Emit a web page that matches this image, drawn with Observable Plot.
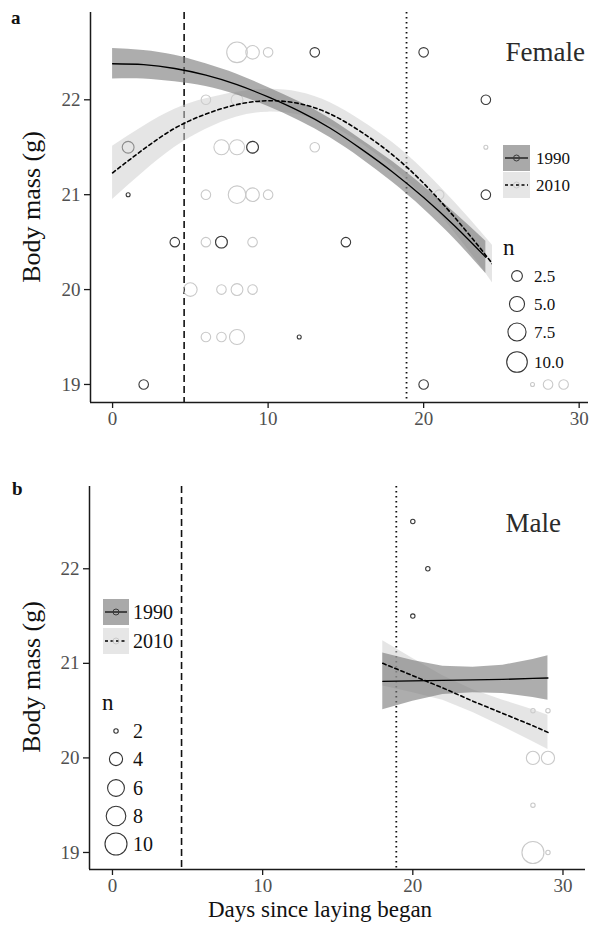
<!DOCTYPE html>
<html><head><meta charset="utf-8">
<script src="https://cdn.jsdelivr.net/npm/d3@7"></script>
<script src="https://cdn.jsdelivr.net/npm/@observablehq/plot@0.6"></script>
<style>
html,body{margin:0;padding:0;background:#fff;}
#wrap{position:relative;width:590px;height:932px;overflow:hidden;background:#fff;}
#wrap svg{display:block;}
#pa{position:absolute;left:0;top:0;}
#pb{position:absolute;left:0;top:466px;}
#ov{position:absolute;left:0;top:0;pointer-events:none;}
</style></head>
<body><div id="wrap"><div id="pa"></div><div id="pb"></div></div>
<script>
const serif = "'Liberation Serif','Times New Roman',serif";

// ---- ticks / labels ----
const xTicks = [0, 10, 20, 30];
const yTicks = [19, 20, 21, 22];
const years = ["1990", "2010"];
const panelNames = ["Female", "Male"];
const refDays = [4.6, 18.9]; // dashed, dotted reference lines

// ---- Female observations ----
const fDay90  = [1, 1, 2, 4, 7, 9, 12, 13, 15, 20, 20, 24, 24];
const fMass90 = [21.5, 21, 19, 20.5, 20.5, 21.5, 19.5, 22.5, 20.5, 22.5, 19, 22, 21];
const fN90    = [3, 1, 2, 2, 3, 3, 1, 2, 2, 2, 2, 2, 2];

const fDay10  = [8, 9, 10, 6, 8, 7, 8, 9, 13, 24, 6, 8, 9, 10, 21, 6, 7, 9, 5, 7, 8, 9, 6, 7, 8, 27, 28, 29];
const fMass10 = [22.5, 22.5, 22.5, 22, 22, 21.5, 21.5, 21.5, 21.5, 21.5, 21, 21, 21, 21, 21, 20.5, 20.5, 20.5, 20, 20, 20, 20, 19.5, 19.5, 19.5, 19, 19, 19];
const fN10    = [10, 4, 2, 2, 3, 5, 5, 3, 2, 1, 2, 7, 4, 2, 2, 2, 3, 2, 4, 2, 3, 2, 2, 2, 5, 1, 2, 2];

// ---- Female fitted curves ----
const fFitDay90 = [0, 2, 4, 6, 8, 10, 12, 14, 16, 18, 20, 22, 24];
const fFit90 = [22.38, 22.37, 22.33, 22.26, 22.16, 22.03, 21.88, 21.70, 21.48, 21.24, 20.97, 20.67, 20.34];
const fLo90  = [22.22, 22.22, 22.19, 22.14, 22.05, 21.93, 21.78, 21.60, 21.38, 21.13, 20.85, 20.53, 20.17];
const fHi90  = [22.54, 22.52, 22.47, 22.38, 22.27, 22.13, 21.98, 21.80, 21.58, 21.35, 21.09, 20.81, 20.51];

const fFitDay10 = [0, 2, 4, 6, 8, 10, 12, 14, 16, 18, 20, 22, 24, 26, 28];
const fFit10 = [21.23, 21.48, 21.70, 21.85, 21.95, 21.99, 21.96, 21.85, 21.66, 21.42, 21.12, 20.76, 20.36, 19.92, 19.45];
const fLo10  = [20.95, 21.24, 21.50, 21.69, 21.82, 21.87, 21.84, 21.73, 21.54, 21.29, 20.98, 20.60, 20.17, 19.69, 19.18];
const fHi10  = [21.51, 21.72, 21.90, 22.01, 22.08, 22.11, 22.08, 21.97, 21.78, 21.55, 21.26, 20.92, 20.55, 20.15, 19.72];

// ---- Male observations ----
const mDay90  = [20, 21, 20];
const mMass90 = [22.5, 22, 21.5];
const mN90    = [2, 2, 2];

const mDay10  = [28, 29, 28, 29, 28, 28, 29];
const mMass10 = [20.5, 20.5, 20, 20, 19.5, 19, 19];
const mN10    = [2, 2, 4, 4, 2, 10, 2];

// ---- Male fitted lines ----
const mFitDay = [18, 20, 22, 24, 26, 28, 29];
const mFit90 = [20.81, 20.815, 20.82, 20.825, 20.83, 20.84, 20.845];
const mLo90  = [20.51, 20.60, 20.67, 20.69, 20.68, 20.64, 20.61];
const mHi90  = [21.11, 21.03, 20.97, 20.96, 20.98, 21.04, 21.08];
const mFit10 = [21.00, 20.87, 20.74, 20.60, 20.47, 20.34, 20.27];
const mLo10  = [20.76, 20.69, 20.61, 20.48, 20.33, 20.17, 20.09];
const mHi10  = [21.24, 21.05, 20.87, 20.72, 20.61, 20.51, 20.45];

// ---- size legend values ----
const fLegendN = [2.5, 5.0, 7.5, 10.0];
const mLegendN = [2, 4, 6, 8, 10];

// build tables
const pts = (d, m, n) => d.map((x, i) => ({day: x, mass: m[i], n: n[i]}));
const fit = (d, f, lo, hi) => d.map((x, i) => ({day: x, fit: f[i], lo: lo[i], hi: hi[i]}));

const col90 = "#3a3a3a", col10 = "#c9c9c9";
const band90 = "#7a7a7a", band10 = "#d0d0d0";

function panel({p90, p10, fit90, fit10, xDomain, yDomain, margins, rOpts, curve}) {
  return Plot.plot({
    width: 590, height: 466,
    ...margins,
    x: {domain: xDomain},
    y: {domain: yDomain},
    r: rOpts,
    style: {fontFamily: serif, fontSize: "19px", background: "transparent", overflow: "visible"},
    marks: [
      Plot.ruleX([refDays[0]], {stroke: "#111", strokeWidth: 1.6, strokeDasharray: "7,4"}),
      Plot.ruleX([refDays[1]], {stroke: "#111", strokeWidth: 1.8, strokeDasharray: "1.6,3.4"}),
      Plot.dot(p10, {x: "day", y: "mass", r: "n", stroke: col10, strokeWidth: 1.1}),
      Plot.dot(p90, {x: "day", y: "mass", r: "n", stroke: col90, strokeWidth: 1.1}),
      Plot.areaY(fit10, {x: "day", y1: "lo", y2: "hi", fill: band10, fillOpacity: 0.55, curve}),
      Plot.areaY(fit90, {x: "day", y1: "lo", y2: "hi", fill: band90, fillOpacity: 0.62, curve}),
      Plot.line(fit10, {x: "day", y: "fit", stroke: "#000", strokeWidth: 1.6, strokeDasharray: "3.5,3", curve}),
      Plot.line(fit90, {x: "day", y: "fit", stroke: "#000", strokeWidth: 1.3, curve}),
      Plot.ruleX([xDomain[0]], {stroke: "#1a1a1a", strokeWidth: 1.5}),
      Plot.ruleY([yDomain[0]], {stroke: "#1a1a1a", strokeWidth: 1.5}),
      Plot.axisX(xTicks, {anchor: "bottom", tickSize: 6, tickPadding: 3, label: null, tickFormat: d => String(d), fontSize: 19, fill: "#505050", stroke: "#1a1a1a", strokeWidth: 1.3}),
      Plot.axisY(yTicks, {anchor: "left", tickSize: 6, tickPadding: 4, label: null, tickFormat: d => String(d), fontSize: 19, fill: "#505050", stroke: "#1a1a1a", strokeWidth: 1.3})
    ]
  });
}

const rA = {type: "linear", transform: n => 1 + 5 * Math.sqrt((n - 1) / 9), domain: [1, 6], range: [2, 10.3]};
const rB = {type: "linear", transform: n => 1 + 5 * Math.sqrt((n - 2) / 8), domain: [1, 6], range: [2.2, 11]};

const chartA = panel({
  p90: pts(fDay90, fMass90, fN90), p10: pts(fDay10, fMass10, fN10),
  fit90: fit(fFitDay90, fFit90, fLo90, fHi90), fit10: fit(fFitDay10, fFit10, fLo10, fHi10),
  xDomain: [-1.42, 30.6], yDomain: [18.81, 22.92],
  margins: {marginLeft: 90, marginRight: 2, marginTop: 12, marginBottom: 64},
  rOpts: rA, curve: "natural"
});
const chartB = panel({
  p90: pts(mDay90, mMass90, mN90), p10: pts(mDay10, mMass10, mN10),
  fit90: fit(mFitDay, mFit90, mLo90, mHi90), fit10: fit(mFitDay, mFit10, mLo10, mHi10),
  xDomain: [-1.53, 31.5], yDomain: [18.82, 22.87],
  margins: {marginLeft: 89, marginRight: 5, marginTop: 20, marginBottom: 63},
  rOpts: rB, curve: "linear"
});
document.getElementById("pa").appendChild(chartA);
document.getElementById("pb").appendChild(chartB);

// radius via the charts' own r scales
function radiusFn(chart, opts) {
  const s = chart.scale("r");
  const test = s.apply(10);
  const applied = Math.abs(test - opts.range[1]) < 0.05 && opts.transform(10) !== 10;
  return v => applied ? s.apply(v) : s.apply(opts.transform(v));
}
const rFnA = radiusFn(chartA, rA);
const rFnB = radiusFn(chartB, rB);

// ---- overlay: titles and legends ----
const ov = d3.select("#wrap").append("svg").attr("id", "ov")
  .attr("width", 590).attr("height", 932)
  .style("font-family", serif);

ov.append("text").attr("x", 11).attr("y", 24).attr("font-size", 19).attr("font-weight", "bold").attr("fill", "#111").text("a");
ov.append("text").attr("x", 12).attr("y", 495).attr("font-size", 19).attr("font-weight", "bold").attr("fill", "#111").text("b");

ov.append("text").attr("x", 585).attr("y", 61).attr("text-anchor", "end").attr("font-size", 27).attr("fill", "#2b2b2b").text(panelNames[0]);
ov.append("text").attr("x", 561).attr("y", 532).attr("text-anchor", "end").attr("font-size", 27).attr("fill", "#2b2b2b").text(panelNames[1]);

[207, 677].forEach(cy => {
  ov.append("text").attr("transform", `translate(40,${cy}) rotate(-90)`).attr("text-anchor", "middle")
    .attr("font-size", 26).attr("fill", "#111").text("Body mass (g)");
});
ov.append("text").attr("x", 320).attr("y", 917).attr("text-anchor", "middle").attr("font-size", 23).attr("fill", "#111")
  .text("Days since laying began");

function yearLegend(x, ys, w, h, fs, tx) {
  const fills = ["#a9a9a9", "#e6e6e6"];
  ys.forEach((y, i) => {
    ov.append("rect").attr("x", x).attr("y", y).attr("width", w).attr("height", h).attr("fill", fills[i]);
    ov.append("line").attr("x1", x + 2).attr("x2", x + w - 2).attr("y1", y + h / 2).attr("y2", y + h / 2)
      .attr("stroke", "#000").attr("stroke-width", i ? 1.4 : 1.2).attr("stroke-dasharray", i ? "3,2.5" : null);
    ov.append("circle").attr("cx", x + w / 2).attr("cy", y + h / 2).attr("r", 3).attr("fill", "none")
      .attr("stroke", i ? col10 : col90).attr("stroke-width", 1);
    ov.append("text").attr("x", tx).attr("y", y + h / 2).attr("dy", "0.35em").attr("font-size", fs).attr("fill", "#111").text(years[i]);
  });
}
function sizeLegend(vals, rfn, cx, cys, tx, fs, titleX, titleY, fmt) {
  ov.append("text").attr("x", titleX).attr("y", titleY).attr("font-size", 23).attr("fill", "#111").text("n");
  vals.forEach((v, i) => {
    ov.append("circle").attr("cx", cx).attr("cy", cys[i]).attr("r", rfn(v)).attr("fill", "none").attr("stroke", "#333").attr("stroke-width", 1.1);
    ov.append("text").attr("x", tx).attr("y", cys[i]).attr("dy", "0.35em").attr("font-size", fs).attr("fill", "#111").text(fmt(v));
  });
}

// panel a legends (white legend background hides curve tails)
ov.append("rect").attr("x", 492).attr("y", 210).attr("width", 98).attr("height", 166).attr("fill", "#fff");
yearLegend(503, [145, 172], 27, 26, 17, 536);
sizeLegend(fLegendN, rFnA, 517, [276, 304, 332, 362], 534, 17, 503, 255, v => v.toFixed(1));

// panel b legends
yearLegend(103, [599, 628], 26, 26, 20, 133);
sizeLegend(mLegendN, rFnB, 116, [731, 759, 788, 816, 844], 133, 20, 102, 710, v => String(v));
</script>
</body></html>
